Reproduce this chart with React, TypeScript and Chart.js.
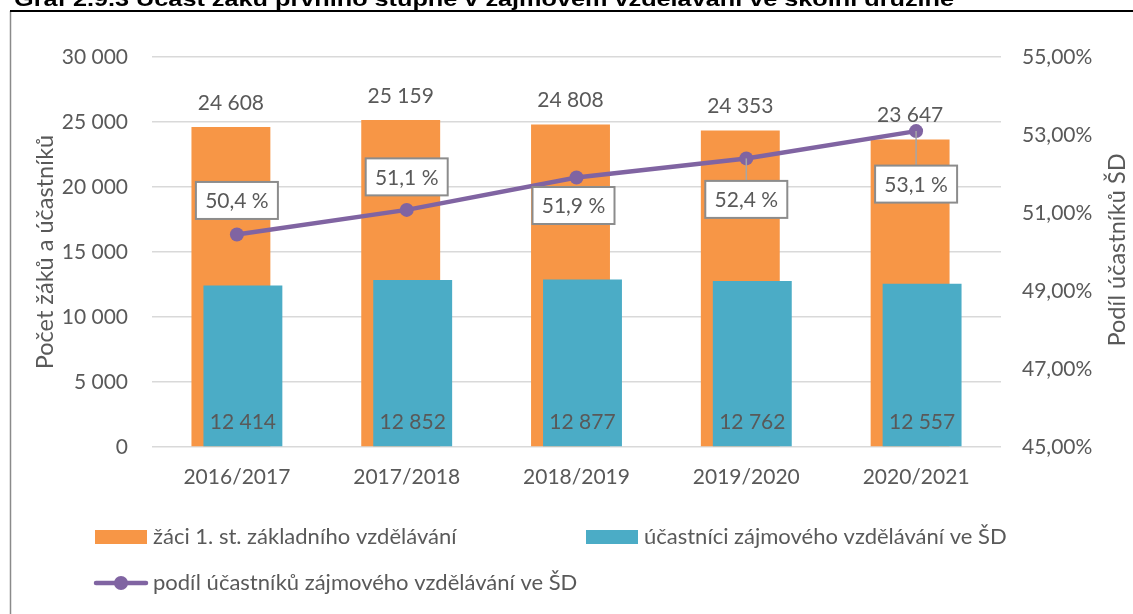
import React, { useEffect, useRef } from 'react';
import { Chart, registerables } from 'chart.js';

Chart.register(...registerables);

// ---- data ----
const categories = ['2016/2017', '2017/2018', '2018/2019', '2019/2020', '2020/2021'];
const pupils = [24608, 25159, 24808, 24353, 23647];
const participants = [12414, 12852, 12877, 12762, 12557];
const share = [50.45, 51.08, 51.91, 52.4, 53.1];
const shareLabels = ['50,4 %', '51,1 %', '51,9 %', '52,4 %', '53,1 %'];
const seriesNames = [
  'žáci 1. st. základního vzdělávání',
  'účastníci zájmového vzdělávání ve ŠD',
  'podíl účastníků zájmového vzdělávání ve ŠD',
];
const leftAxis = { min: 0, max: 30000, step: 5000 };
const rightAxis = { min: 45, max: 55, step: 2 };
const titleText = 'Graf 2.9.3 Účast žáků prvního stupně v zájmovém vzdělávání ve školní družině';
const leftAxisTitle = 'Počet žáků a účastníků';
const rightAxisTitle = 'Podíl účastníků ŠD';

// ---- style ----
const ORANGE = '#F79646';
const BLUE = '#4BACC6';
const PURPLE = '#8064A2';
const TEXT = '#595959';
const FONT = 'Lato';
const FS = 21;
// label box offsets (dx, dy) relative to each line point
const boxOffsets = [[0, -34], [0, -33], [-3, 28], [0, 41], [0, 53]];

const fmtThousands = (n: number) => String(Math.round(n)).replace(/\B(?=(\d{3})+(?!\d))/g, ' ');
const fmtPct = (n: number) => n.toFixed(2).replace('.', ',') + '%';

const overlayPlugin = {
  id: 'overlay',
  beforeDatasetDraw(chart: any, args: any) {
    if (args.index === 1) return false;
    return true;
  },
  afterDatasetDraw(chart: any, args: any) {
    if (args.index === 0) {
      chart.getDatasetMeta(1).controller.draw();
    }
  },
  afterDatasetsDraw(chart: any) {
    const ctx = chart.ctx as CanvasRenderingContext2D;
    ctx.save();
    ctx.font = `${FS}px ${FONT}`;
    ctx.fillStyle = TEXT;
    ctx.textAlign = 'center';
    ctx.textBaseline = 'middle';
    const m0 = chart.getDatasetMeta(0);
    const m1 = chart.getDatasetMeta(1);
    const m2 = chart.getDatasetMeta(2);
    m0.data.forEach((el: any, i: number) => {
      ctx.fillText(fmtThousands(pupils[i]), el.x, el.y - 24);
    });
    m1.data.forEach((el: any, i: number) => {
      ctx.fillText(fmtThousands(participants[i]), el.x, el.base - 24);
    });
    m2.data.forEach((el: any, i: number) => {
      const [dx, dy] = boxOffsets[i];
      const bw = 82;
      const bh = 37;
      const cx = el.x + dx;
      const cy = el.y + dy;
      if (dy > 35) {
        ctx.strokeStyle = '#a6a6a6';
        ctx.lineWidth = 1.5;
        ctx.beginPath();
        ctx.moveTo(el.x, el.y);
        ctx.lineTo(el.x, cy - bh / 2);
        ctx.stroke();
      }
      ctx.fillStyle = '#ffffff';
      ctx.fillRect(cx - bw / 2, cy - bh / 2, bw, bh);
      ctx.strokeStyle = '#8c8c8c';
      ctx.lineWidth = 2;
      ctx.strokeRect(cx - bw / 2, cy - bh / 2, bw, bh);
      ctx.fillStyle = TEXT;
      ctx.fillText(shareLabels[i], cx, cy + 1);
    });
    ctx.restore();
  },
  afterDraw(chart: any) {
    const ctx = chart.ctx as CanvasRenderingContext2D;
    const ds = chart.data.datasets;
    ctx.save();
    // frame
    ctx.strokeStyle = '#8a8a8a';
    ctx.lineWidth = 1.5;
    ctx.beginPath();
    ctx.moveTo(10.5, 11);
    ctx.lineTo(10.5, 614);
    ctx.stroke();
    ctx.strokeStyle = '#000000';
    ctx.lineWidth = 2;
    ctx.beginPath();
    ctx.moveTo(10, 11);
    ctx.lineTo(1133, 11);
    ctx.stroke();
    // title (clipped at the top of the picture)
    ctx.fillStyle = '#000000';
    ctx.font = 'bold 20px "Liberation Sans"';
    ctx.textAlign = 'left';
    ctx.textBaseline = 'alphabetic';
    const tw = ctx.measureText(titleText).width;
    ctx.save();
    ctx.translate(14, 6);
    ctx.scale(940 / tw, 1);
    ctx.fillText(titleText, 0, 0);
    ctx.restore();

    // axis titles
    ctx.font = `23.5px ${FONT}`;
    ctx.fillStyle = TEXT;
    ctx.textAlign = 'center';
    ctx.textBaseline = 'middle';
    ctx.save();
    ctx.translate(45, 252);
    ctx.rotate(-Math.PI / 2);
    ctx.fillText(leftAxisTitle, 0, 0);
    ctx.restore();
    ctx.save();
    ctx.translate(1117, 250);
    ctx.rotate(-Math.PI / 2);
    ctx.fillText(rightAxisTitle, 0, 0);
    ctx.restore();

    // legend
    ctx.font = `22px ${FONT}`;
    ctx.textAlign = 'left';
    ctx.textBaseline = 'middle';
    const row1 = 537;
    const row2 = 583;
    ctx.fillStyle = ds[0].backgroundColor;
    ctx.fillRect(95, row1 - 7, 52, 14);
    ctx.fillStyle = TEXT;
    ctx.fillText(ds[0].label, 153, row1);
    ctx.fillStyle = ds[1].backgroundColor;
    ctx.fillRect(586, row1 - 7, 52, 14);
    ctx.fillStyle = TEXT;
    ctx.fillText(ds[1].label, 644, row1);
    ctx.strokeStyle = ds[2].borderColor;
    ctx.lineWidth = 4.5;
    ctx.lineCap = 'round';
    ctx.beginPath();
    ctx.moveTo(96, row2);
    ctx.lineTo(146, row2);
    ctx.stroke();
    ctx.fillStyle = ds[2].borderColor;
    ctx.beginPath();
    ctx.arc(121, row2, 7, 0, Math.PI * 2);
    ctx.fill();
    ctx.fillStyle = TEXT;
    ctx.fillText(ds[2].label, 153, row2);
    ctx.restore();
  },
};

export default function App() {
  const ref = useRef<HTMLCanvasElement>(null);
  useEffect(() => {
    if (!ref.current) return;
    const chart = new Chart(ref.current, {
      type: 'bar',
      data: {
        labels: categories,
        datasets: [
          {
            type: 'bar',
            label: seriesNames[0],
            data: pupils,
            backgroundColor: ORANGE,
            order: 1,
            yAxisID: 'y',
            categoryPercentage: 24 / 170,
            barPercentage: 79 / 12,
          },
          {
            type: 'bar',
            label: seriesNames[1],
            data: participants,
            backgroundColor: BLUE,
            order: 2,
            yAxisID: 'y',
            categoryPercentage: 24 / 170,
            barPercentage: 79 / 12,
          },
          {
            type: 'line',
            label: seriesNames[2],
            data: share,
            borderColor: PURPLE,
            backgroundColor: PURPLE,
            borderWidth: 4.5,
            pointRadius: 7,
            pointBorderWidth: 0,
            pointBackgroundColor: PURPLE,
            tension: 0,
            order: 0,
            yAxisID: 'y1',
          },
        ],
      } as any,
      options: {
        animation: false,
        responsive: false,
        devicePixelRatio: 1,
        layout: { padding: { top: 57, left: 0, right: 0, bottom: 0 } },
        plugins: {
          legend: { display: false },
          tooltip: { enabled: false },
          title: { display: false },
        },
        scales: {
          x: {
            grid: { display: false, drawTicks: false },
            border: { display: false },
            ticks: { color: TEXT, font: { family: FONT, size: FS }, padding: 18, maxRotation: 0 },
            afterFit: (s: any) => {
              s.height = 167;
            },
          },
          y: {
            position: 'left',
            min: leftAxis.min,
            max: leftAxis.max,
            ticks: {
              stepSize: leftAxis.step,
              callback: (v: any) => fmtThousands(Number(v)),
              color: TEXT,
              font: { family: FONT, size: FS },
              padding: 24,
            },
            grid: { color: '#d9d9d9', lineWidth: 1.5, drawTicks: false },
            border: { display: false },
            afterFit: (s: any) => {
              s.width = 152;
            },
          },
          y1: {
            position: 'right',
            min: rightAxis.min,
            max: rightAxis.max,
            ticks: {
              stepSize: rightAxis.step,
              callback: (v: any) => fmtPct(Number(v)),
              color: TEXT,
              font: { family: FONT, size: FS },
              padding: 21,
            },
            grid: { display: false, drawTicks: false },
            border: { display: false },
            afterFit: (s: any) => {
              s.width = 132;
            },
          },
        },
      } as any,
      plugins: [overlayPlugin],
    });
    return () => chart.destroy();
  }, []);
  return (
    <div style={{ position: 'fixed', left: 0, top: 0, width: 1133, height: 614, background: '#ffffff' }}>
      <canvas ref={ref} width={1133} height={614} style={{ width: 1133, height: 614, display: 'block' }} />
    </div>
  );
}
